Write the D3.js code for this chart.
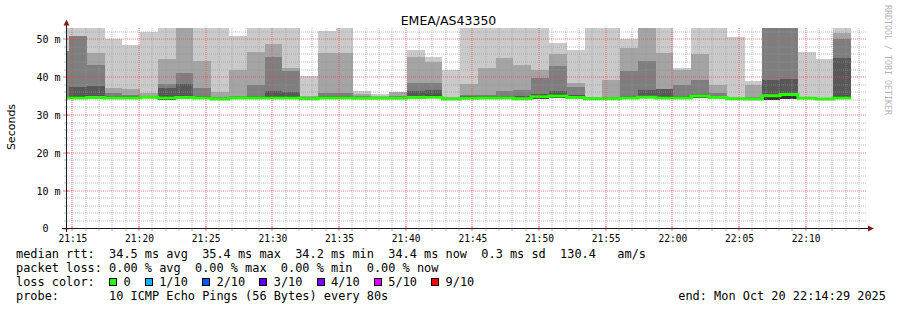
<!DOCTYPE html>
<html>
<head>
<meta charset="utf-8">
<script src="https://cdn.jsdelivr.net/npm/d3@7"></script>
<style>
  body { margin: 0; background: #fff; }
  svg { display: block; }
  text { white-space: pre; }
</style>
</head>
<body>
<svg id="chart" width="897" height="310" xml:space="preserve"></svg>
<script>
const title = "EMEA/AS43350";
const stepSeconds = 80;
const firstColumn = new Date(2025, 9, 20, 21, 13, 25);
const graphStart = new Date(2025, 9, 20, 21, 14, 36);
const graphEnd = new Date(2025, 9, 20, 22, 14, 36);
const yMax = 53;

// sorted pings per 80s column, ms (56 = off the top of the graph)
const pingMax = [56,56,56,50.0,48.4,51.9,56,56,56,56, 50.8,56,56,56,40.4,52.1,56,36.4,35.6,36.2,
  47.2,45.4,41.9,56,56,56,56,56,49.1,47.2, 56,56,50.1,56,56,42.4,56,56,50.5,39.0, 56,56,46.7,44.8,56];
const ping9 = [47.0,51.0,46.5,37.1,36.9,35.9,44.7,56,44.3,36.1, 41.9,46.6,48.8,42.5,35.0,46.5,46.5,35.6,35.0,36.0,
  45.4,44.1,34.8,38.2,42.5,45.1,43.2,41.9,46.1,38.5, 34.8,39.3,47.7,56,46.5,41.8,46.1,37.9,34.8,37.9, 56,56,34.8,34.6,51.6];
const ping8 = [46.9,50.9,43.2,35.7,35.2,35.0,38.2,41.1,37.2,34.8, 34.9,37.9,45.3,41.7,34.7,35.8,35.8,34.9,34.8,35.1,
  38.5,38.5,34.6,35.2,35.3,36.4,36.6,39.7,43.0,37.3, 34.6,34.8,41.6,44.4,36.9,38.0,39.3,35.9,34.6,34.7, 56,56,34.6,34.4,50.1];
const ping7 = [35.0,37.3,37.8,35.0,34.9,34.9,37.1,38.1,35.0,34.6, 34.7,34.9,36.4,36.2,34.5,35.0,35.0,34.7,34.7,34.8,
  36.3,36.6,34.5,34.9,34.9,35.0,34.9,35.5,36.4,35.2, 34.5,34.6,34.9,36.6,36.8,35.0,35.6,35.1,34.5,34.5, 39.3,39.5,34.5,34.3,45.1];
const ping6 = [34.8,34.9,34.8,34.8,34.7,34.8,34.9,34.9,34.8,34.4, 34.6,34.7,34.9,34.9,34.4,34.8,34.8,34.6,34.6,34.6,
  35.0,35.2,34.3,34.7,34.7,34.8,34.6,35.3,35.5,34.9, 34.4,34.5,34.7,35.0,34.9,34.8,35.3,34.9,34.4,34.3, 35.3,35.8,34.4,34.2,35.0];
const medianRtt = [34.5,34.5,34.6,34.5,34.5,34.7,34.5,34.6,34.5,34.2, 34.5,34.5,34.5,34.5,34.3,34.5,34.5,34.4,34.4,34.4,
  34.6,34.7,34.2,34.4,34.5,34.5,34.3,34.8,35.0,34.6, 34.3,34.3,34.5,34.7,34.5,34.5,35.0,34.6,34.3,34.2, 35.1,35.4,34.4,34.2,34.5];
const pingLow = [34.3,34.1,34.3,34.3,34.3,34.4,34.0,34.4,34.3,34.0, 34.3,34.3,34.3,34.3,34.1,34.3,34.3,34.2,34.2,34.2,
  34.3,34.4,34.0,34.2,34.3,34.3,34.0,34.3,34.5,34.3, 34.1,34.1,34.3,34.4,34.3,34.3,34.5,34.4,34.1,34.0, 34.0,34.2,34.2,34.0,34.3];

const yTicks = [0, 10, 20, 30, 40, 50];
const smokeShades = ["#cacaca", "#a4a4a4", "#7e7e7e", "#585858", "#323232"];
const lossLabels = ["0", "1/10", "2/10", "3/10", "4/10", "5/10", "9/10"];
const lossColors = ["#26ff00", "#00b8ff", "#0059ff", "#5e00ff", "#7e00ff", "#dd00ff", "#ff0000"];

const statsLine = "median rtt:  34.5 ms avg  35.4 ms max  34.2 ms min  34.4 ms now  0.3 ms sd  130.4   am/s";
const lossLine = "packet loss: 0.00 % avg  0.00 % max  0.00 % min  0.00 % now";
const probeLine = "probe:       10 ICMP Echo Pings (56 Bytes) every 80s";
const endLine = "end: Mon Oct 20 22:14:29 2025";

const mono = "'DejaVu Sans Mono', monospace";
const sans = "'DejaVu Sans', sans-serif";

const svg = d3.select("#chart");

const x = d3.scaleTime().domain([graphStart, graphEnd]).range([67, 867]);
const y = d3.scaleLinear().domain([0, yMax]).range([228.5, 28]);
const colStart = i => new Date(firstColumn.getTime() + i * stepSeconds * 1000);

svg.append("clipPath").attr("id", "plotclip")
  .append("rect").attr("x", 67).attr("y", 28).attr("width", 800).attr("height", 200.5);

const plot = svg.append("g").attr("clip-path", "url(#plotclip)");

// smoke: outer band first, inner bands painted over it
[pingMax, ping9, ping8, ping7, ping6].forEach((upper, k) => {
  plot.append("g")
    .attr("fill", smokeShades[k])
    .attr("shape-rendering", "crispEdges")
    .selectAll("rect")
    .data(upper.map((v, i) => ({ i, top: Math.min(v, yMax), low: pingLow[i] })))
    .join("rect")
    .attr("x", d => x(colStart(d.i)))
    .attr("width", d => x(colStart(d.i + 1)) - x(colStart(d.i)))
    .attr("y", d => y(d.top))
    .attr("height", d => y(d.low) - y(d.top));
});

// grid (rrdtool style: dotted, antialiased across two pixels)
const minorColor = "rgba(150,150,150,0.6)";
const majorColor = "rgba(240,70,70,0.75)";
const grid = svg.append("g")
  .attr("stroke-width", 1)
  .attr("stroke-dasharray", "1,1");

const minorValues = y.ticks(26).filter(v => v > 0 && v % 10 !== 0);
const minuteTicks = x.ticks(d3.timeMinute.every(1)).filter(t => t.getMinutes() % 5 !== 0);
const fiveTicks = x.ticks(d3.timeMinute.every(5));
const gy = v => Math.round(y(v));
const gx = t => Math.round(x(t));

grid.selectAll("line.hmin")
  .data(minorValues)
  .join("line").attr("class", "hmin")
  .attr("stroke", minorColor)
  .attr("x1", 67).attr("x2", 867)
  .attr("y1", gy).attr("y2", gy);

grid.selectAll("line.vmin")
  .data(minuteTicks)
  .join("line").attr("class", "vmin")
  .attr("stroke", minorColor)
  .attr("y1", 28).attr("y2", 228)
  .attr("x1", gx).attr("x2", gx);

grid.selectAll("line.hmaj")
  .data(yTicks.filter(v => v > 0))
  .join("line").attr("class", "hmaj")
  .attr("stroke", majorColor)
  .attr("x1", 67).attr("x2", 867)
  .attr("y1", gy).attr("y2", gy);

grid.selectAll("line.vmaj")
  .data(fiveTicks)
  .join("line").attr("class", "vmaj")
  .attr("stroke", majorColor)
  .attr("y1", 28).attr("y2", 228)
  .attr("x1", gx).attr("x2", gx);

// median line, coloured by loss (all 0 here)
const medPts = medianRtt.map((v, i) => [colStart(i), v])
  .concat([[colStart(medianRtt.length), medianRtt[medianRtt.length - 1]]]);
plot.append("path")
  .datum(medPts)
  .attr("fill", "none")
  .attr("stroke", lossColors[0])
  .attr("stroke-width", 3)
  .attr("d", d3.line().x(d => x(d[0])).y(d => y(d[1])).curve(d3.curveStepAfter));

// small axis ticks
const ticks = svg.append("g").attr("stroke-width", 1);
ticks.selectAll("line.xt").data(minuteTicks).join("line").attr("class", "xt")
  .attr("stroke", minorColor)
  .attr("x1", gx).attr("x2", gx)
  .attr("y1", 228).attr("y2", 231);
ticks.selectAll("line.xT").data(fiveTicks).join("line").attr("class", "xT")
  .attr("stroke", majorColor)
  .attr("x1", gx).attr("x2", gx)
  .attr("y1", 226).attr("y2", 231);
ticks.selectAll("line.yt").data(minorValues).join("line").attr("class", "yt")
  .attr("stroke", minorColor)
  .attr("x1", 64).attr("x2", 67)
  .attr("y1", gy).attr("y2", gy);
ticks.selectAll("line.yT").data(yTicks).join("line").attr("class", "yT")
  .attr("stroke", majorColor)
  .attr("x1", 63).attr("x2", 69)
  .attr("y1", gy).attr("y2", gy);

// axes lines and arrows
const axisColor = "rgb(31,31,31)";
const arrowColor = "rgb(128,31,31)";
svg.append("line").attr("stroke", axisColor).attr("shape-rendering", "crispEdges")
  .attr("x1", 62).attr("x2", 869).attr("y1", 228.5).attr("y2", 228.5);
svg.append("line").attr("stroke", axisColor).attr("shape-rendering", "crispEdges")
  .attr("x1", 66.5).attr("x2", 66.5).attr("y1", 232).attr("y2", 24);
svg.append("path").attr("fill", arrowColor)
  .attr("d", "M868,225.5L874,228.5L868,231.5Z");
svg.append("path").attr("fill", arrowColor)
  .attr("d", "M63.5,25.5L66.5,19.5L69.5,25.5Z");

// axis labels
const xAxis = svg.append("g")
  .attr("transform", "translate(0,228.5)")
  .call(d3.axisBottom(x).ticks(d3.timeMinute.every(5))
    .tickFormat(d3.timeFormat("%H:%M")).tickSize(0).tickPadding(0));
xAxis.select(".domain").remove();
xAxis.selectAll("text")
  .attr("y", 13).attr("dy", null)
  .attr("fill", "#000")
  .style("font-family", mono).style("font-size", "9.6px");

const yAxis = svg.append("g")
  .attr("transform", "translate(60.5,0)")
  .call(d3.axisLeft(y).tickValues(yTicks)
    .tickFormat(v => v ? v + " m" : "0  ").tickSize(0).tickPadding(0));
yAxis.select(".domain").remove();
yAxis.selectAll("text")
  .attr("x", 0).attr("dy", "0.34em")
  .attr("fill", "#000")
  .style("font-family", mono).style("font-size", "10px");

svg.append("text")
  .attr("transform", "translate(15,127) rotate(-90)")
  .attr("text-anchor", "middle")
  .style("font-family", sans).style("font-size", "11px")
  .text("Seconds");

svg.append("text")
  .attr("x", 448.5).attr("y", 24.5)
  .attr("text-anchor", "middle")
  .style("font-family", sans).style("font-size", "12.5px")
  .text(title);

svg.append("text")
  .attr("transform", "translate(885,5) rotate(90)")
  .attr("fill", "#b4b4b4")
  .style("font-family", mono).style("font-size", "8.3px")
  .text("RRDTOOL / TOBI OETIKER");

// legend
const cw = 7.16;
const legend = svg.append("g").style("font-family", mono).style("font-size", "11.9px");
legend.append("text").attr("x", 16).attr("y", 258).text(statsLine);
legend.append("text").attr("x", 16).attr("y", 272).text(lossLine);
legend.append("text").attr("x", 16).attr("y", 286.3).text("loss color:");
legend.append("text").attr("x", 16).attr("y", 300.3).text(probeLine);
legend.append("text").attr("x", 678.3).attr("y", 300.3).text(endLine);

let cursor = 16 + 13 * cw;
const entries = lossLabels.map((label, i) => {
  const e = { label, color: lossColors[i], box: cursor, text: cursor + 2 * cw };
  cursor = e.text + (label.length + 2) * cw;
  return e;
});
const items = legend.selectAll("g.loss").data(entries).join("g").attr("class", "loss");
items.append("rect")
  .attr("x", d => Math.round(d.box) + 0.5).attr("y", 278.5)
  .attr("width", 7).attr("height", 7)
  .attr("fill", d => d.color).attr("stroke", "#000");
items.append("text")
  .attr("x", d => d.text).attr("y", 286.3)
  .text(d => d.label);
</script>
</body>
</html>
